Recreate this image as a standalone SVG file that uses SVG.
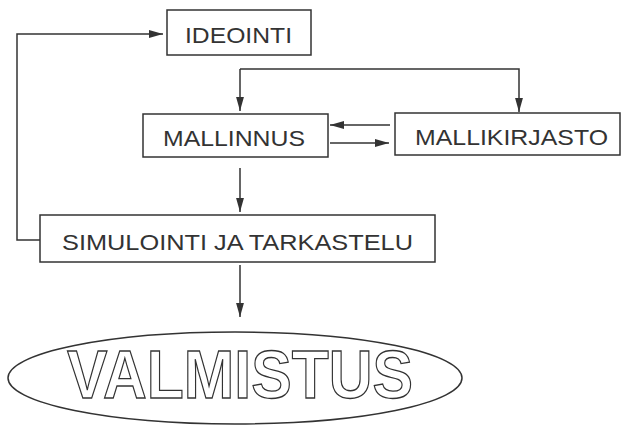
<svg xmlns="http://www.w3.org/2000/svg" width="621" height="425" viewBox="0 0 621 425">
<defs>
<style>
.box{fill:#fff;stroke:#333;stroke-width:1.5}
.lbl{font-family:"Liberation Sans",Arial,sans-serif;font-size:22px;fill:#333}
.con{fill:none;stroke:#333;stroke-width:1.5}
.big{font-family:"Liberation Sans",Arial,sans-serif;font-weight:bold;font-size:68px;fill:#fff;stroke:#333;stroke-width:1.3}
</style>
<marker id="ah" viewBox="0 0 10 10" refX="10" refY="5" markerWidth="9" markerHeight="9" markerUnits="userSpaceOnUse" orient="auto">
<path d="M0,2 L10,5 L0,8 Z" fill="#333"/>
</marker>
<marker id="ahv" viewBox="0 0 10 10" refX="10" refY="5" markerWidth="14" markerHeight="14" markerUnits="userSpaceOnUse" orient="auto">
<path d="M0,2.2 L10,5 L0,7.8 Z" fill="#333"/>
</marker>
</defs>
<rect width="621" height="425" fill="#fff"/>
<g id="connectors">
<polyline class="con" points="40,240 17,240 17,34 163,34" marker-end="url(#ahv)"/>
<line class="con" x1="240" y1="69" x2="240" y2="111" marker-end="url(#ahv)"/>
<polyline class="con" points="240,69 519,69 519,112" marker-end="url(#ahv)"/>
<line class="con" x1="390" y1="125" x2="330" y2="125" marker-end="url(#ahv)"/>
<line class="con" x1="330" y1="143" x2="389" y2="143" marker-end="url(#ahv)"/>
<line class="con" x1="240" y1="168" x2="240" y2="212" marker-end="url(#ahv)"/>
<line class="con" x1="240" y1="265" x2="240" y2="317" marker-end="url(#ahv)"/>
</g>
<g id="ideointi">
<rect class="box" x="167" y="10" width="144" height="45"/>
<text class="lbl" x="185" y="43" textLength="107" lengthAdjust="spacingAndGlyphs">IDEOINTI</text>
</g>
<g id="mallinnus">
<rect class="box" x="143" y="114" width="185" height="43"/>
<text class="lbl" x="163" y="146" textLength="142" lengthAdjust="spacingAndGlyphs">MALLINNUS</text>
</g>
<g id="mallikirjasto">
<rect class="box" x="395" y="113" width="225" height="42"/>
<text class="lbl" x="415" y="145" textLength="193" lengthAdjust="spacingAndGlyphs">MALLIKIRJASTO</text>
</g>
<g id="simulointi">
<rect class="box" x="40" y="215" width="395" height="47"/>
<text class="lbl" x="62" y="250" textLength="351" lengthAdjust="spacingAndGlyphs">SIMULOINTI JA TARKASTELU</text>
</g>
<g id="valmistus">
<ellipse class="box" cx="235" cy="378" rx="227" ry="46"/>
<text class="big" x="67" y="398" textLength="346" lengthAdjust="spacingAndGlyphs">VALMISTUS</text>
</g>
</svg>
